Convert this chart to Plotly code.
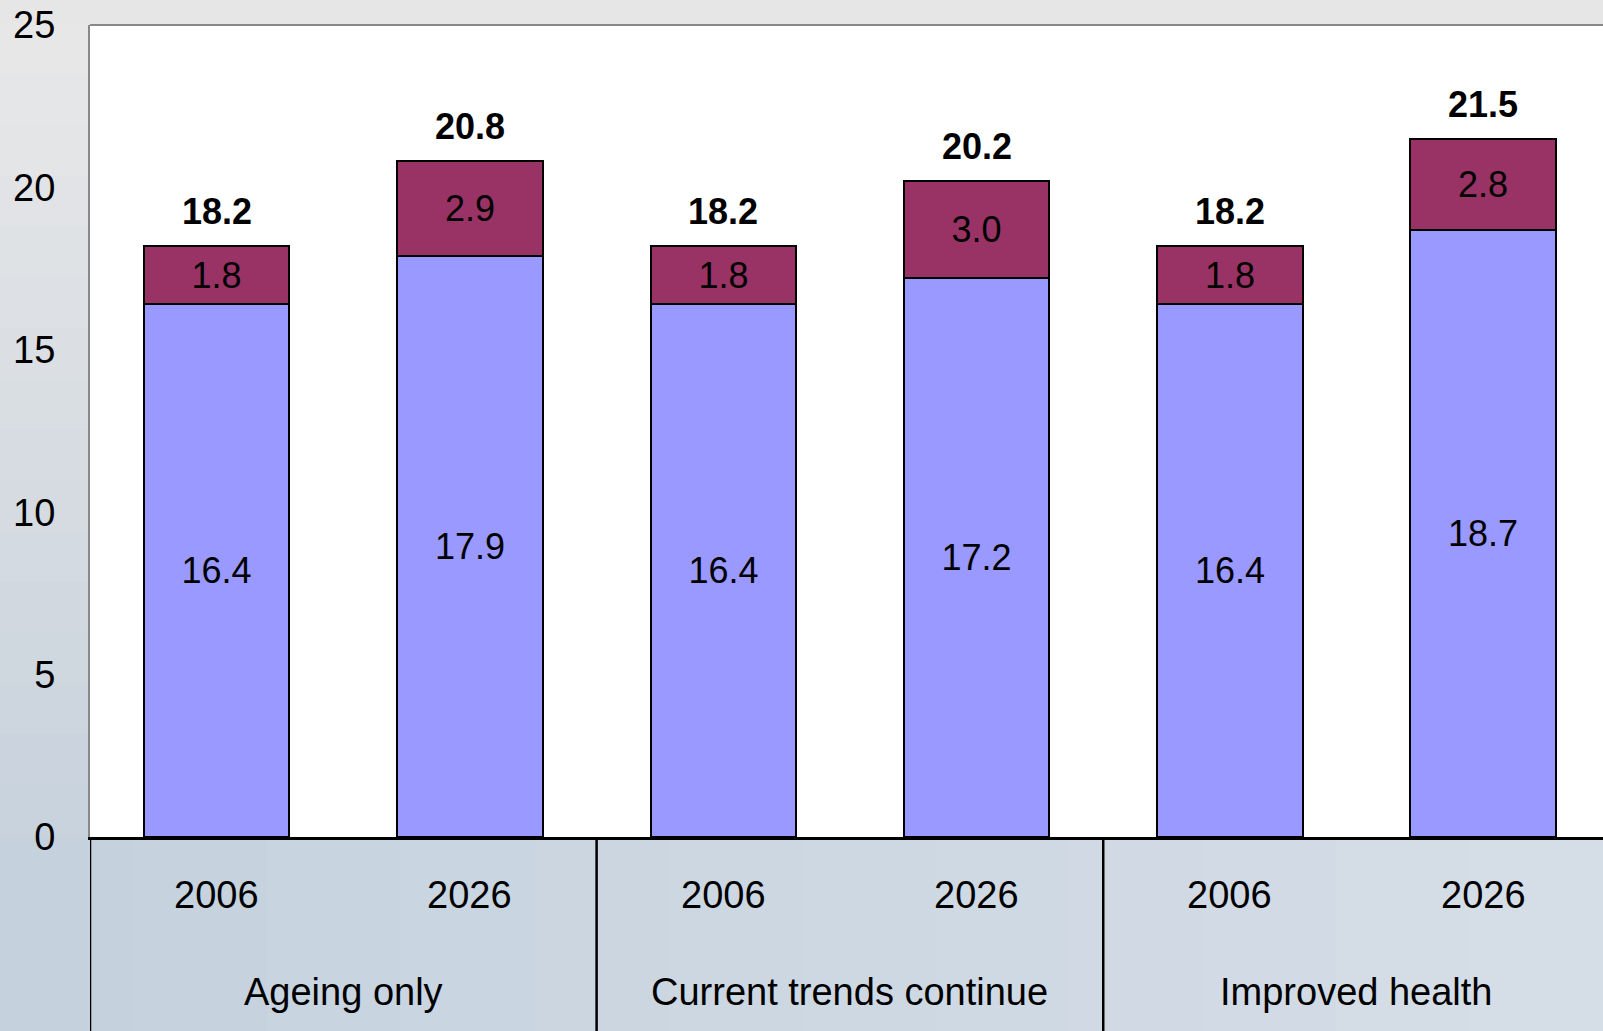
import plotly.graph_objects as go

groups = ["Ageing only", "Current trends continue", "Improved health"]
years = ["2006", "2026", "2006", "2026", "2006", "2026"]
lower = [16.4, 17.9, 16.4, 17.2, 16.4, 18.7]
upper = [1.8, 2.9, 1.8, 3.0, 1.8, 2.8]
totals = [18.2, 20.8, 18.2, 20.2, 18.2, 21.5]
y_ticks = [0, 5, 10, 15, 20, 25]

W, H = 1603, 1031
ML, MT, MB = 90, 25, 194
plot_w = W - ML
plot_h = H - MT - MB
FONT = "Arial, Liberation Sans, sans-serif"

x = list(range(len(years)))

fig = go.Figure()
fig.add_trace(go.Bar(
    x=x, y=lower, marker=dict(color="#9999ff", line=dict(color="black", width=2)),
    text=[f"{v:.1f}" for v in lower], textposition="inside", insidetextanchor="middle",
    textfont=dict(size=36, color="black", family=FONT), width=0.574, showlegend=False,
))
fig.add_trace(go.Bar(
    x=x, y=upper, marker=dict(color="#993366", line=dict(color="black", width=2)),
    text=[f"{v:.1f}" for v in upper], textposition="inside", insidetextanchor="middle",
    textfont=dict(size=36, color="black", family=FONT), width=0.574, showlegend=False,
))

annotations = []
for i, t in enumerate(totals):
    annotations.append(dict(x=i, y=t, xref="x", yref="y", text=f"<b>{t:.1f}</b>",
                            showarrow=False, yanchor="bottom", yshift=12,
                            font=dict(size=36, color="black", family=FONT)))
for i, yr in enumerate(years):
    annotations.append(dict(x=i, y=0, xref="x", yref="y", text=yr, showarrow=False,
                            yanchor="middle", yshift=-58,
                            font=dict(size=38, color="black", family=FONT)))
for g, name in enumerate(groups):
    annotations.append(dict(x=2 * g + 0.5, y=0, xref="x", yref="y", text=name, showarrow=False,
                            yanchor="middle", yshift=-155,
                            font=dict(size=38, color="black", family=FONT)))

shapes = []
def lerp(c1, c2, t):
    return "rgb(%d,%d,%d)" % tuple(round(a + (b - a) * t) for a, b in zip(c1, c2))

# left margin gradient (gray -> blue-gray)
n = 16
top_c, bot_c = (232, 232, 232), (200, 210, 221)
for k in range(n):
    y0 = 1 - k / n
    y1 = 1 - (k + 1) / n
    shapes.append(dict(type="rect", xref="paper", yref="paper", x0=-ML / plot_w, x1=0,
                       y0=y1, y1=y0 + 0.002, fillcolor=lerp(top_c, bot_c, (k + 0.5) / n),
                       line=dict(width=0), layer="below"))
# bottom region, slight horizontal gradient
m = 12
lb, rb = (196, 209, 222), (214, 222, 231)
for k in range(m):
    xa = -ML / plot_w + (1 + ML / plot_w) * k / m
    xb = -ML / plot_w + (1 + ML / plot_w) * (k + 1) / m
    shapes.append(dict(type="rect", xref="paper", yref="paper", x0=xa, x1=xb + 0.002,
                       y0=-MB / plot_h - 0.01, y1=0, fillcolor=lerp(lb, rb, (k + 0.5) / m),
                       line=dict(width=0), layer="below"))
# top border of plot area
shapes.append(dict(type="line", xref="paper", yref="paper", x0=0, x1=1, y0=1, y1=1,
                   line=dict(color="#888888", width=2)))
# group dividers
for xd in [-0.5, 1.5, 3.5]:
    shapes.append(dict(type="line", xref="x", yref="paper", x0=xd, x1=xd,
                       y0=0, y1=-MB / plot_h - 0.01, line=dict(color="black", width=2.5)))

fig.update_layout(
    barmode="stack",
    width=W, height=H,
    margin=dict(l=ML, r=0, t=MT, b=MB, pad=0),
    paper_bgcolor="#e6e6e6",
    plot_bgcolor="white",
    font=dict(family=FONT, color="black"),
    xaxis=dict(range=[-0.5, 5.473], showticklabels=False, showgrid=False, zeroline=False,
               showline=True, linecolor="black", linewidth=2.5, ticks=""),
    yaxis=dict(range=[0, 25], tickvals=y_ticks, ticktext=[str(v) for v in y_ticks],
               tickfont=dict(size=38, family=FONT, color="black"), showgrid=False,
               zeroline=False, showline=True, linecolor="#888888", linewidth=2,
               ticks="", ticklabelstandoff=25),
    annotations=annotations,
    shapes=shapes,
    bargap=0,
)

fig.write_html("out.html", config={"displayModeBar": False},
               post_script="document.body.style.margin='0';document.body.style.overflow='hidden';")
